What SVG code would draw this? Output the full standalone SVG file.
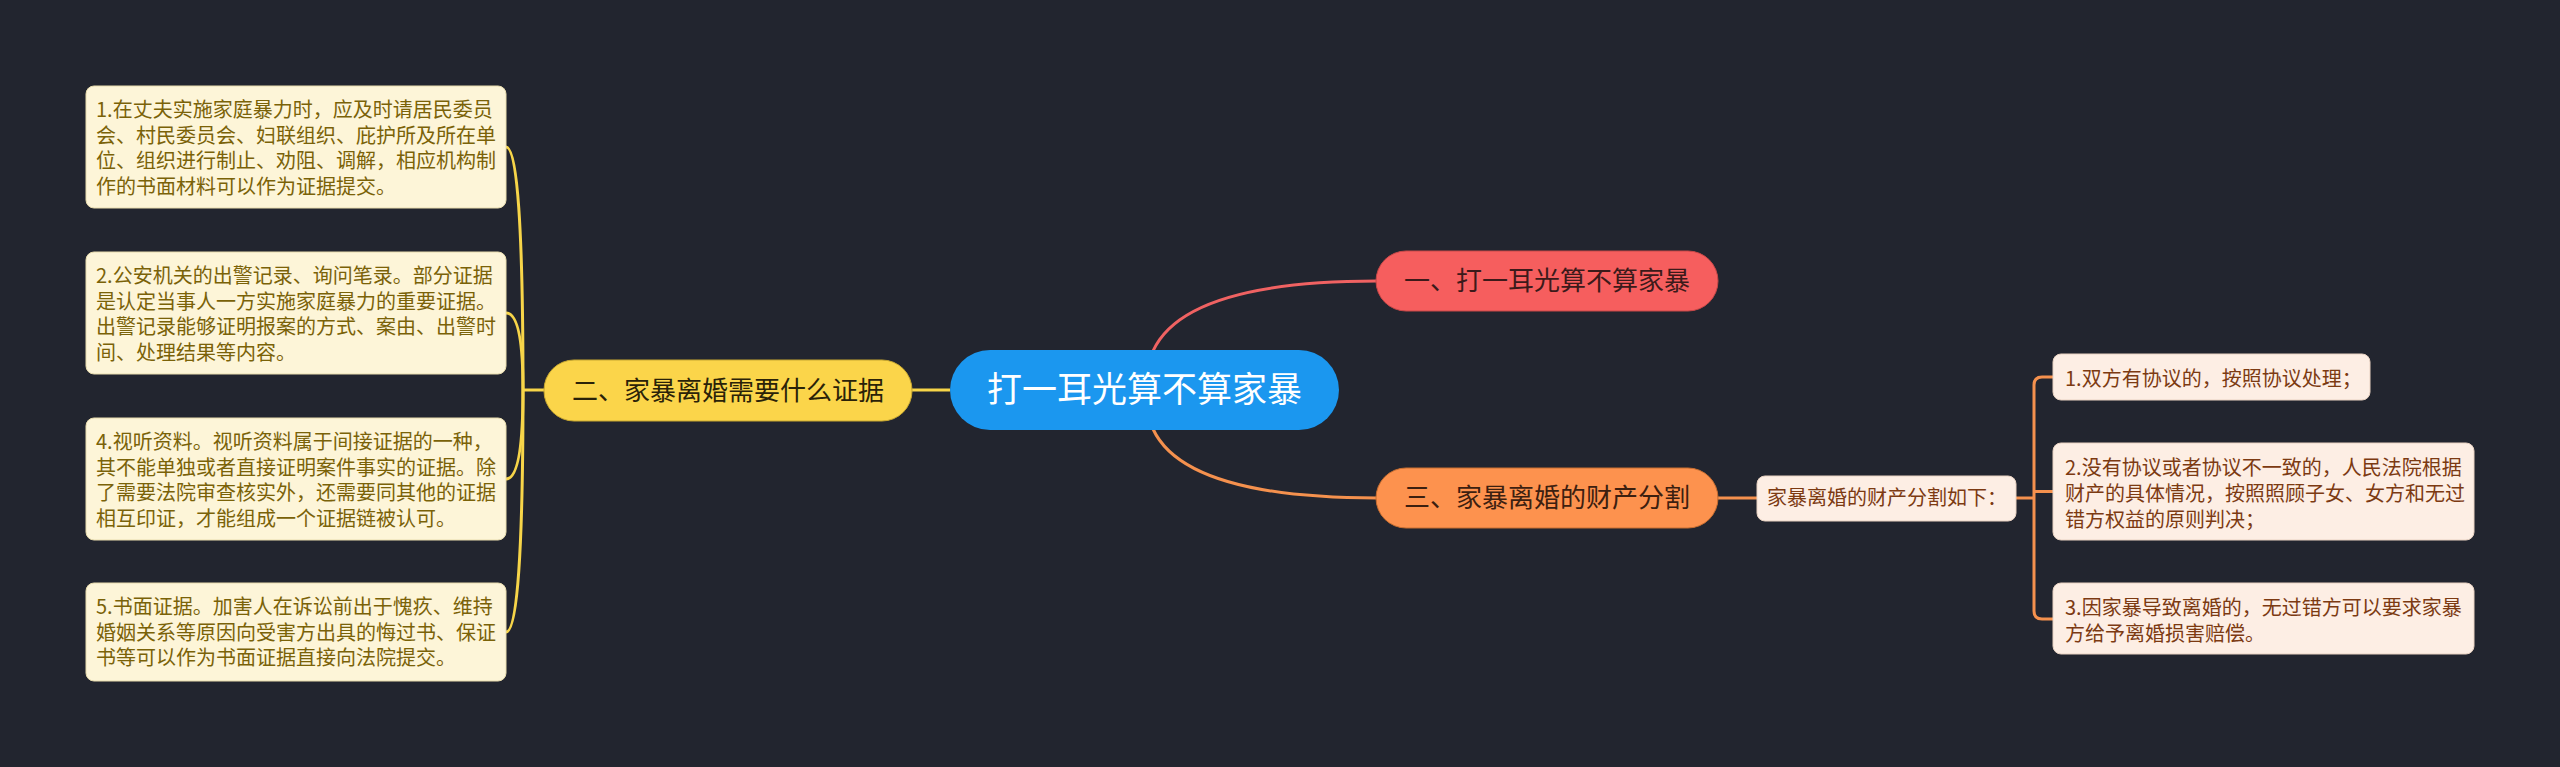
<svg xmlns="http://www.w3.org/2000/svg" width="2560" height="767" viewBox="0 0 2560 767">
<style>
text{font-family:"Noto Sans CJK SC","Noto Sans",sans-serif;}
.bg{fill:#22252f;}
.yl{fill:none;stroke:#f7d549;stroke-width:3;}
.rl{fill:none;stroke:#f06262;stroke-width:3;}
.ol{fill:none;stroke:#f5914e;stroke-width:3;}
.lbox{fill:#fdf5d8;stroke:#e8dcae;stroke-width:1;}
.ltxt{font-size:20px;fill:#7a6208;}
.rbox{fill:#fdeee4;stroke:#e8d2c2;stroke-width:1;}
.rtxt{font-size:20px;fill:#7c3a12;}
.main{font-size:26px;}
</style>
<rect class="bg" x="0" y="0" width="2560" height="767"/>
<g id="connectors">
<path class="rl" d="M1153 351 Q1185 281 1377 281"/>
<path class="ol" d="M1153 429 Q1185 498 1377 498"/>
<path class="yl" d="M912 390 L950 390" stroke-width="4"/>
<path class="yl" d="M523 390 L544 390"/>
<path class="yl" d="M523 390 Q523 147 506 147"/>
<path class="yl" d="M523 390 Q523 313 506 313"/>
<path class="yl" d="M523 390 Q523 479 506 479"/>
<path class="yl" d="M523 390 Q523 632 506 632"/>
<path class="ol" d="M1718 498 L1757 498"/>
<path class="ol" d="M2016 498 L2034 498"/>
<path class="ol" d="M2053 377 L2042 377 Q2034 377 2034 385 L2034 611 Q2034 619 2042 619 L2053 619"/>
<path class="ol" d="M2034 491.5 L2053 491.5"/>
</g>
<g id="root">
<rect x="950" y="350" width="389" height="80" rx="40" fill="#1b97ef"/>
<text x="1144.5" y="402" font-size="35" fill="#ffffff" text-anchor="middle">打一耳光算不算家暴</text>
</g>
<g id="n1">
<rect x="1376" y="251" width="342" height="60" rx="30" fill="#f65e5e" stroke="#c84848" stroke-width="1"/>
<text class="main" x="1547" y="290" fill="#3c1a1a" text-anchor="middle">一、打一耳光算不算家暴</text>
</g>
<g id="n2">
<rect x="544" y="360" width="368" height="61" rx="30" fill="#fbd54a" stroke="#c8a830" stroke-width="1"/>
<text class="main" x="728" y="399.5" fill="#2a2208" text-anchor="middle">二、家暴离婚需要什么证据</text>
</g>
<g id="n3">
<rect x="1376" y="468" width="342" height="60" rx="30" fill="#fd924e" stroke="#c86e30" stroke-width="1"/>
<text class="main" x="1547" y="507" fill="#3c2010" text-anchor="middle">三、家暴离婚的财产分割</text>
</g>
<g id="l1">
<rect class="lbox" x="86" y="86" width="420" height="122" rx="8"/>
<text class="ltxt"><tspan x="96" y="117">1.在丈夫实施家庭暴力时，应及时请居民委员</tspan><tspan x="96" y="142.7">会、村民委员会、妇联组织、庇护所及所在单</tspan><tspan x="96" y="168.4">位、组织进行制止、劝阻、调解，相应机构制</tspan><tspan x="96" y="194.1">作的书面材料可以作为证据提交。</tspan></text>
</g>
<g id="l2">
<rect class="lbox" x="86" y="252" width="420" height="122" rx="8"/>
<text class="ltxt"><tspan x="96" y="283">2.公安机关的出警记录、询问笔录。部分证据</tspan><tspan x="96" y="308.7">是认定当事人一方实施家庭暴力的重要证据。</tspan><tspan x="96" y="334.4">出警记录能够证明报案的方式、案由、出警时</tspan><tspan x="96" y="360.1">间、处理结果等内容。</tspan></text>
</g>
<g id="l4">
<rect class="lbox" x="86" y="418" width="420" height="122" rx="8"/>
<text class="ltxt"><tspan x="96" y="449">4.视听资料。视听资料属于间接证据的一种，</tspan><tspan x="96" y="474.7">其不能单独或者直接证明案件事实的证据。除</tspan><tspan x="96" y="500.4">了需要法院审查核实外，还需要同其他的证据</tspan><tspan x="96" y="526.1">相互印证，才能组成一个证据链被认可。</tspan></text>
</g>
<g id="l5">
<rect class="lbox" x="86" y="583" width="420" height="98" rx="8"/>
<text class="ltxt"><tspan x="96" y="614">5.书面证据。加害人在诉讼前出于愧疚、维持</tspan><tspan x="96" y="639.7">婚姻关系等原因向受害方出具的悔过书、保证</tspan><tspan x="96" y="665.4">书等可以作为书面证据直接向法院提交。</tspan></text>
</g>
<g id="r0">
<rect class="rbox" x="1757" y="476" width="259" height="45" rx="8"/>
<text class="rtxt" x="1767" y="505">家暴离婚的财产分割如下：</text>
</g>
<g id="r1">
<rect class="rbox" x="2053" y="354" width="317" height="46" rx="8"/>
<text class="rtxt" x="2065" y="386">1.双方有协议的，按照协议处理；</text>
</g>
<g id="r2">
<rect class="rbox" x="2053" y="443" width="421" height="97" rx="8"/>
<text class="rtxt"><tspan x="2065" y="475">2.没有协议或者协议不一致的，人民法院根据</tspan><tspan x="2065" y="501">财产的具体情况，按照照顾子女、女方和无过</tspan><tspan x="2065" y="527">错方权益的原则判决；</tspan></text>
</g>
<g id="r3">
<rect class="rbox" x="2053" y="583" width="421" height="71" rx="8"/>
<text class="rtxt"><tspan x="2065" y="615">3.因家暴导致离婚的，无过错方可以要求家暴</tspan><tspan x="2065" y="641">方给予离婚损害赔偿。</tspan></text>
</g>
</svg>
